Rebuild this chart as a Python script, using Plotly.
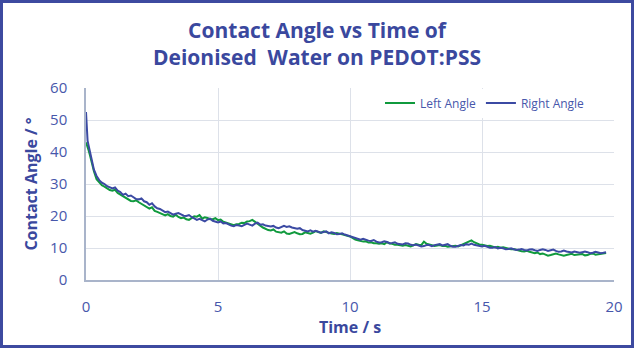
import plotly.graph_objects as go

time_s = [0, 0.03, 0.06, 0.1, 0.15, 0.2, 0.3, 0.4, 0.5, 0.6, 0.7, 0.8, 0.9,
          1.0, 1.1, 1.2, 1.3, 1.4, 1.5, 1.6, 1.7, 1.8, 1.9,
          2.0, 2.1, 2.2, 2.3, 2.4, 2.5, 2.6, 2.7, 2.8, 2.9,
          3.0, 3.1, 3.2, 3.3, 3.4, 3.5, 3.6, 3.7, 3.8, 3.9,
          4.0, 4.1, 4.2, 4.3, 4.4, 4.5, 4.6, 4.7, 4.8, 4.9,
          5.0, 5.1, 5.2, 5.3, 5.4, 5.5, 5.6, 5.7, 5.8, 5.9,
          6.0, 6.1, 6.2, 6.3, 6.4, 6.5, 6.6, 6.7, 6.8, 6.9,
          7.0, 7.1, 7.2, 7.3, 7.4, 7.5, 7.6, 7.7, 7.8, 7.9,
          8.0, 8.1, 8.2, 8.3, 8.4, 8.5, 8.6, 8.7, 8.8, 8.9,
          9.0, 9.1, 9.2, 9.3, 9.4, 9.5, 9.6, 9.7, 9.8, 9.9,
          10.0, 10.1, 10.2, 10.3, 10.4, 10.5, 10.6, 10.7, 10.8, 10.9,
          11.0, 11.1, 11.2, 11.3, 11.4, 11.5, 11.6, 11.7, 11.8, 11.9,
          12.0, 12.1, 12.2, 12.3, 12.4, 12.5, 12.6, 12.7, 12.8, 12.9,
          13.0, 13.1, 13.2, 13.3, 13.4, 13.5, 13.6, 13.7, 13.8, 13.9,
          14.0, 14.1, 14.2, 14.3, 14.4, 14.5, 14.6, 14.7, 14.8, 14.9,
          15.0, 15.1, 15.2, 15.3, 15.4, 15.5, 15.6, 15.7, 15.8, 15.9,
          16.0, 16.1, 16.2, 16.3, 16.4, 16.5, 16.6, 16.7, 16.8, 16.9,
          17.0, 17.1, 17.2, 17.3, 17.4, 17.5, 17.6, 17.7, 17.8, 17.9,
          18.0, 18.1, 18.2, 18.3, 18.4, 18.5, 18.6, 18.7, 18.8, 18.9,
          19.0, 19.1, 19.2, 19.3, 19.4, 19.5, 19.6, 19.7]

right_angle = [52.5, 47.0, 43.5, 42.0, 40.0, 37.5, 34.5, 32.5, 31.2, 30.4, 30.0, 29.3, 28.9,
               28.6, 28.9, 27.9, 27.5, 26.6, 27.0, 26.2, 26.4, 25.8, 25.3,
               25.2, 25.5, 24.6, 24.3, 23.5, 24.0, 23.0, 22.4, 22.2, 21.6,
               21.2, 21.4, 20.9, 20.4, 20.7, 20.9, 20.5, 20.1, 20.0, 20.3,
               19.7, 19.2, 18.8, 19.1, 18.6, 18.3, 18.9, 19.2, 18.5, 18.3,
               18.0, 18.3, 17.7, 17.8, 17.3, 17.0, 16.8, 17.2, 17.0, 16.8,
               17.2, 17.6, 17.3, 17.0, 17.6, 17.9, 17.3, 17.4, 17.0, 16.8,
               16.7, 16.9, 16.4, 16.2, 16.5, 16.9, 16.6, 16.8, 16.4, 16.3,
               16.0, 16.2, 15.6, 15.4, 15.2, 15.5, 15.1, 15.4, 15.2, 14.8,
               15.0, 15.2, 14.6, 14.9, 14.7, 14.3, 14.4, 14.6, 14.2, 13.9,
               13.8, 13.5, 13.1, 12.8, 12.6, 12.9, 12.5, 12.3, 12.2, 12.5,
               12.0, 11.7, 11.8, 12.1, 11.9, 11.5, 11.6, 11.8, 11.3, 11.1,
               11.1, 11.5, 11.4, 11.0, 10.9, 11.1, 10.7, 10.5, 10.6, 10.9,
               10.9, 10.6, 10.9, 11.1, 11.2, 10.8, 11.0, 11.2, 10.7, 10.4,
               10.4, 10.7, 10.9, 10.8, 11.2, 11.0, 11.4, 11.0, 10.9, 10.6,
               10.5, 10.7, 10.3, 10.1, 10.1, 10.3, 9.9, 10.1, 9.9, 9.6,
               9.7, 9.9, 9.6, 9.4, 9.5, 9.7, 9.4, 9.2, 9.5, 9.6,
               9.3, 9.1, 9.4, 9.6, 9.4, 9.1, 9.3, 9.5, 9.1, 8.8,
               8.9, 9.2, 8.9, 8.7, 8.6, 8.9, 8.8, 8.5, 8.7, 8.9,
               8.7, 8.4, 8.5, 8.8, 8.6, 8.4, 8.5, 8.7]

left_angle = [43.0, 42.0, 41.0, 40.5, 39.0, 37.0, 34.0, 31.5, 30.4, 29.6, 29.2, 28.6, 28.1,
              27.9, 28.2, 27.2, 26.7, 26.0, 25.5, 25.2, 24.7, 24.6, 24.9,
              24.3, 23.8, 23.5, 23.0, 22.3, 22.7, 21.6, 21.3, 21.0, 20.5,
              20.2, 20.6, 20.0, 19.8, 20.4, 19.7, 19.3, 19.5, 19.0, 18.8,
              19.4, 19.9, 19.8, 20.3, 19.2, 19.6, 19.4, 19.0, 19.0, 19.3,
              18.7, 18.9, 18.2, 17.9, 17.5, 17.3, 17.1, 17.4, 17.5, 17.9,
              17.8, 18.3, 18.4, 18.8, 18.1, 17.6, 17.0, 16.4, 16.0, 15.6,
              15.5, 15.8, 15.1, 14.9, 14.8, 15.2, 14.5, 14.4, 14.7, 15.0,
              14.6, 14.3, 14.4, 14.9, 14.7, 14.5, 14.8, 15.3, 15.0, 14.7,
              15.2, 14.9, 14.8, 14.5, 14.4, 14.7, 14.5, 14.2, 14.1, 13.8,
              13.6, 13.0, 12.6, 12.4, 12.2, 12.0, 12.1, 11.7, 11.8, 11.5,
              11.5, 11.3, 11.5, 11.2, 11.8, 11.4, 11.3, 11.0, 11.0, 10.8,
              10.7, 10.9, 10.6, 10.5, 10.8, 11.2, 11.0, 10.9, 12.0, 11.3,
              11.1, 10.8, 10.6, 10.8, 10.9, 10.6, 10.7, 10.4, 10.5, 10.8,
              10.7, 10.5, 10.9, 11.3, 11.6, 11.9, 12.4, 11.8, 11.4, 11.1,
              11.0, 10.8, 10.6, 10.7, 10.4, 10.2, 10.4, 10.1, 10.2, 10.0,
              9.9, 9.6, 9.7, 9.4, 9.2, 9.0, 8.9, 9.1, 8.8, 8.5,
              8.4, 8.6, 8.1, 8.3, 7.9, 7.6, 7.8, 8.1, 8.3, 8.0,
              7.9, 7.6, 7.8, 8.1, 8.2, 7.8, 7.9, 8.2, 8.1, 7.7,
              7.8, 8.2, 8.3, 7.9, 8.0, 8.3, 8.2, 8.4]

series_names = ["Left Angle", "Right Angle"]
series_colors = ["#109a3d", "#3b4aa3"]

TITLE_COLOR = "#3a489e"
TICK_COLOR = "#4757ab"
GRID = "#dde1e9"
FONT = "Open Sans"

fig = go.Figure()
fig.add_trace(go.Scatter(x=time_s, y=left_angle, mode="lines", name=series_names[0],
                         line=dict(color=series_colors[0], width=2)))
fig.add_trace(go.Scatter(x=time_s, y=right_angle, mode="lines", name=series_names[1],
                         line=dict(color=series_colors[1], width=2)))

W, H = 634, 348
L, R, T, B = 86, 20, 88, 68
pw, ph = W - L - R, H - T - B

fig.update_layout(
    width=W, height=H,
    margin=dict(l=L, r=R, t=T, b=B),
    paper_bgcolor="white", plot_bgcolor="white",
    font=dict(family=FONT, color=TICK_COLOR),
    title=dict(text="<b>Contact Angle vs Time of<br>Deionised  Water on PEDOT:PSS</b>",
               x=0.5, xanchor="center", xref="container", y=1 - 38 / H, yanchor="middle", yref="container",
               font=dict(family=FONT, size=21, color=TITLE_COLOR)),
    showlegend=True,
    legend=dict(orientation="h", x=(380 - L) / pw, xanchor="left", y=(280 - 103) / ph, yanchor="middle",
                bgcolor="white", font=dict(family=FONT, size=12, color=TICK_COLOR),
                itemwidth=30, tracegroupgap=0),
    xaxis=dict(range=[0, 20], tickvals=[0, 5, 10, 15, 20], showgrid=True, gridcolor=GRID, gridwidth=1,
               showline=True, linecolor="#a9b4ca", linewidth=1.5, zeroline=False,
               ticks="", ticklabelstandoff=12,
               tickfont=dict(family=FONT, size=15, color=TICK_COLOR),
               title=dict(text="<b>Time / s</b>", standoff=7,
                          font=dict(family=FONT, size=16, color=TITLE_COLOR))),
    yaxis=dict(range=[0, 60], tickvals=[0, 10, 20, 30, 40, 50, 60], showgrid=True, gridcolor=GRID, gridwidth=1,
               showline=True, linecolor="#a9b4ca", linewidth=1.5, zeroline=False,
               ticks="", ticklabelstandoff=14,
               tickfont=dict(family=FONT, size=15, color=TICK_COLOR),
               title=dict(text="<b>Contact Angle / °</b>", standoff=8,
                          font=dict(family=FONT, size=16, color=TITLE_COLOR))),
)

fig.add_shape(type="rect", xref="paper", yref="paper",
              x0=(1.5 - L) / pw, x1=(W - 1.5 - L) / pw,
              y0=(H - B - (H - 1.5)) / ph, y1=(H - B - 1.5) / ph,
              line=dict(color="#3d4aa0", width=3), fillcolor="rgba(0,0,0,0)", layer="above")

fig.write_html("out.html")
